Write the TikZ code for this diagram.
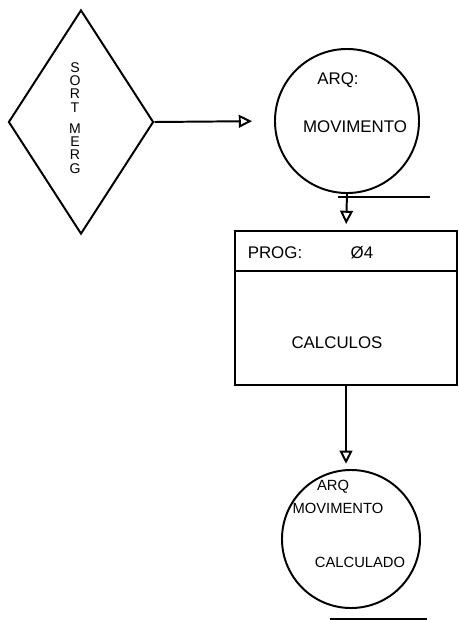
\documentclass[tikz,border=0pt]{standalone}
\usepackage{fontspec}
\setmainfont{Liberation Sans}
\usetikzlibrary{shapes.geometric,arrows.meta,positioning}
\tikzset{
traco/.style={line width=1.4pt},
decisao/.style={traco,draw,diamond,inner sep=0pt,minimum width=3.625cm,minimum height=5.6cm},
arquivo/.style={traco,draw,circle,inner sep=0pt,minimum size=#1},
programa/.style={traco,draw,rectangle,inner sep=0pt,minimum width=5.55cm,minimum height=3.85cm},
texto/.style={inner sep=0pt,font=\fontsize{12}{14}\selectfont},
textop/.style={inner sep=0pt,font=\fontsize{10.5}{12}\selectfont},
seta/.style={traco,-{Triangle[open,length=0.33cm,width=0.32cm]}}
}
\providecommand{\Sublinha}[3]{
\draw[traco] (#1) ++(#2) -- ++(#3,0);
}
\begin{document}
\begin{tikzpicture}[x=0.025cm,y=-0.025cm]
\useasboundingbox (0,0) rectangle (459,620);
\node[decisao] (sort) at (81,122) {};
\node[align=center,inner sep=0pt,font=\fontsize{10}{9.4}\selectfont] (rotSort) at (75,118) {S\\O\\R\\T\\[1.1ex]M\\E\\R\\G};
\node[arquivo=3.6cm] (arq1) at (347,121) {};
\node[programa] (prog) at (346,308) {};
\node[arquivo=3.45cm] (arq2) at (351,539) {};
\Sublinha{arq1.south}{-9,3}{92}
\Sublinha{arq2.south}{-21,10}{97}
\draw[traco] (prog.north west) ++(0,41) -- ++(222,0);
\node[texto] (rotArq1) at (338,80) {ARQ:};
\node[texto] (rotMov1) at (355,127) {MOVIMENTO};
\node[texto] (rotProg) at (275,253) {PROG:};
\node[texto] (rotNum) at (362,253) {Ø4};
\node[texto] (rotCalc) at (337,343) {CALCULOS};
\node[textop] (rotArq2) at (333,487) {ARQ};
\node[textop] (rotMov2) at (338,508) {MOVIMENTO};
\node[textop] (rotCalc2) at (360,562) {CALCULADO};
\draw[seta,shorten >=0.55cm] (sort.east) -- (arq1.west);
\draw[seta,shorten >=0.15cm] (arq1.south) -- (prog.north);
\draw[seta,shorten >=0.13cm] (prog.south) -- (prog.south |- arq2.north);
\end{tikzpicture}
\end{document}
